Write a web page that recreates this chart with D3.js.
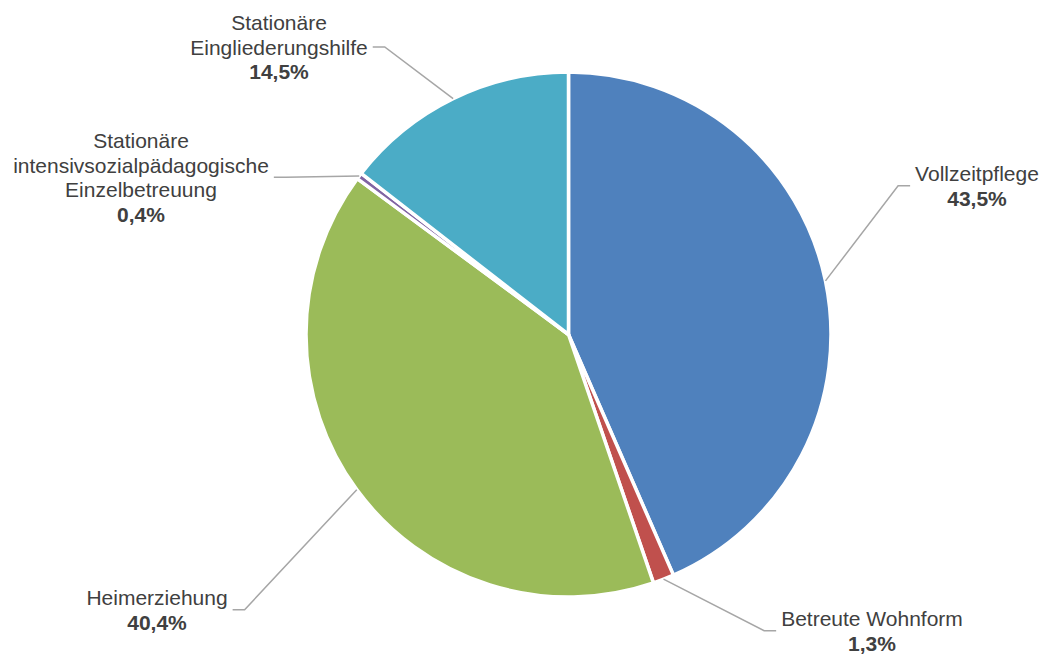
<!DOCTYPE html>
<html>
<head>
<meta charset="utf-8">
<script src="https://cdn.jsdelivr.net/npm/d3@7/dist/d3.min.js"></script>
<style>
  html, body { margin: 0; padding: 0; background: #fff; }
  svg { display: block; }
  text { font-family: "Liberation Sans", Arial, sans-serif; fill: #404040; }
</style>
</head>
<body>
<svg id="chart" width="1043" height="654"></svg>
<script>
// Anteil der Hilfearten (in %)
const categories = [
  "Vollzeitpflege",
  "Betreute Wohnform",
  "Heimerziehung",
  "Stationäre intensivsozialpädagogische Einzelbetreuung",
  "Stationäre Eingliederungshilfe"
];
const values = [43.5, 1.3, 40.4, 0.4, 14.5];
const valueLabels = ["43,5%", "1,3%", "40,4%", "0,4%", "14,5%"];
const labelLines = [
  ["Vollzeitpflege"],
  ["Betreute Wohnform"],
  ["Heimerziehung"],
  ["Stationäre", "intensivsozialpädagogische", "Einzelbetreuung"],
  ["Stationäre", "Eingliederungshilfe"]
];
const colors = ["#4F81BD", "#C0504D", "#9BBB59", "#8064A2", "#4BACC6"];

// Label placement: block centre x, first baseline y, side of the pie
const labelLayout = [
  { x: 977, y: 181, side: "right" },
  { x: 872, y: 626, side: "right" },
  { x: 157, y: 605, side: "left" },
  { x: 141, y: 148, side: "left" },
  { x: 279, y: 30,  side: "left" }
];

const W = 1043, H = 654;
const cx = 568.5, cy = 334.5, R = 262.5;
const fontSize = 21, lineH = 24.5;

const svg = d3.select("#chart");
const g = svg.append("g").attr("transform", `translate(${cx},${cy})`);

const pie = d3.pie().sort(null).value(d => d.value).startAngle(0).endAngle(2 * Math.PI);
const data = categories.map((c, i) => ({ name: c, value: values[i], i }));
const arcs = pie(data);

const arc = d3.arc().innerRadius(0).outerRadius(R);
const edgeArc = d3.arc().innerRadius(R).outerRadius(R);

g.selectAll("path.slice")
  .data(arcs)
  .join("path")
  .attr("class", "slice")
  .attr("d", arc)
  .attr("fill", d => colors[d.data.i])
  .attr("stroke", "#fff")
  .attr("stroke-width", 3.5)
  .attr("stroke-linejoin", "round");

// Labels and leader lines
const labels = svg.append("g");
arcs.forEach(a => {
  const i = a.data.i;
  const L = labelLayout[i];
  const t = labels.append("text")
    .attr("text-anchor", "middle")
    .attr("font-size", fontSize);
  const lines = labelLines[i];
  lines.forEach((ln, k) => {
    t.append("tspan").attr("x", L.x).attr("y", L.y + k * lineH).text(ln);
  });
  t.append("tspan")
    .attr("x", L.x).attr("y", L.y + lines.length * lineH)
    .attr("font-weight", "bold")
    .text(valueLabels[i]);

  const bb = t.node().getBBox();
  const midY = bb.y + bb.height / 2;
  const [ex, ey] = edgeArc.centroid(a);
  const start = [cx + ex, cy + ey];
  const endX = L.side === "right" ? bb.x - 5 : bb.x + bb.width + 5;
  const elbowX = L.side === "right" ? endX - 12 : endX + 12;

  labels.append("polyline")
    .attr("points", [start, [elbowX, midY], [endX, midY]].map(p => p.join(",")).join(" "))
    .attr("fill", "none")
    .attr("stroke", "#A6A6A6")
    .attr("stroke-width", 1.5);
});
</script>
</body>
</html>
